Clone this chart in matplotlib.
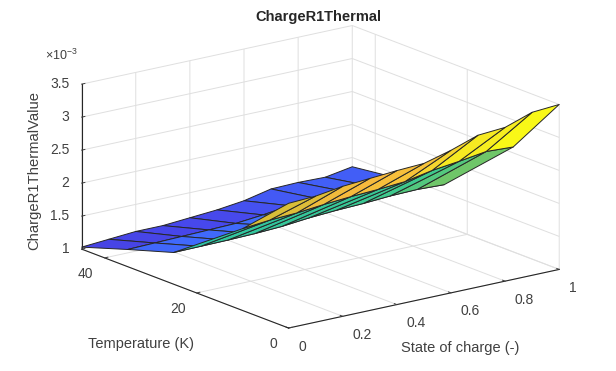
import matplotlib
matplotlib.use('Agg')
import matplotlib.pyplot as plt
from matplotlib.colors import LinearSegmentedColormap, Normalize
import numpy as np

plt.rcParams['font.family'] = ['Liberation Sans', 'DejaVu Sans']
plt.rcParams['mathtext.default'] = 'regular'

soc = [0, 0.1, 0.2, 0.3, 0.4, 0.5, 0.6, 0.7, 0.8, 0.9, 1]
temp = [0, 10, 25, 35, 45]
# values in units of 1e-3
r_t0 = [2.89, 2.91, 2.97, 3.00, 3.03, 3.05, 3.16, 3.30, 3.33, 3.47, 3.50]
r_t10 = [2.24, 2.28, 2.30, 2.34, 2.37, 2.39, 2.42, 2.50, 2.55, 2.61, 2.59]
r_t25 = [1.48, 1.485, 1.49, 1.50, 1.52, 1.56, 1.585, 1.60, 1.626, 1.636, 1.62]
r_t35 = [1.26, 1.27, 1.28, 1.29, 1.30, 1.34, 1.39, 1.41, 1.43, 1.42, 1.45]
r_t45 = [1.03, 1.06, 1.09, 1.09, 1.12, 1.15, 1.20, 1.29, 1.30, 1.29, 1.36]

x_ticks = [0, 0.2, 0.4, 0.6, 0.8, 1]
x_ticklabels = ['0', '0.2', '0.4', '0.6', '0.8', '1']
y_ticks = [0, 20, 40]
z_ticks = [1, 1.5, 2, 2.5, 3, 3.5]
z_ticklabels = ['1', '1.5', '2', '2.5', '3', '3.5']

parula = LinearSegmentedColormap.from_list('parula', [
    (0.2422, 0.1504, 0.6603), (0.2803, 0.2782, 0.9221), (0.2440, 0.4358, 0.9988),
    (0.1540, 0.5902, 0.9218), (0.0297, 0.7082, 0.8163), (0.1938, 0.7758, 0.6251),
    (0.2500, 0.7900, 0.5500), (0.7200, 0.7600, 0.2000), (0.9700, 0.7300, 0.2400),
    (0.9600, 0.9000, 0.1500), (0.9769, 0.9839, 0.0805)])

X, Y = np.meshgrid(soc, temp)
Z = np.array([r_t0, r_t10, r_t25, r_t35, r_t45])
colors = parula(Normalize(Z.min(), Z.max())(Z))

fig = plt.figure(figsize=(6.16, 3.71), dpi=100)
ax = fig.add_axes([4.1 / 616, -0.33 + 0.4 / 371, 1, 1.66], projection='3d')
ax.set_proj_type('ortho')
ax.view_init(elev=16.7, azim=-127)
ax.set_box_aspect((339, 344, 172.3), zoom=0.808)
ax.patch.set_alpha(0)

ax.plot_surface(X, Y, Z, facecolors=colors, rstride=1, cstride=1, shade=False,
                edgecolor='#262626', linewidth=0.7)

ax.set_xlim(0, 1)
ax.set_ylim(0, 45)
ax.set_zlim(1, 3.5)
ax.set_xticks(x_ticks, x_ticklabels)
ax.set_yticks(y_ticks)
ax.set_zticks(z_ticks, z_ticklabels)

for axis in (ax.xaxis, ax.yaxis, ax.zaxis):
    axis.set_pane_color((1, 1, 1, 0))
    axis.pane.set_edgecolor('#d9d9d9')
    axis.line.set_color('#262626')
    axis.line.set_linewidth(0.8)
    axis._axinfo['grid'].update(color='#dfdfdf', linewidth=0.7)
    axis._axinfo['tick'].update(inward_factor=0.0, outward_factor=0.15, linewidth={True: 0.7, False: 0.7})
ax.tick_params(labelsize=10, colors='#404040', pad=0)
ax.tick_params(axis='x', pad=3)
ax.tick_params(axis='y', pad=1.5)
ax.tick_params(axis='z', pad=-2)
plt.setp(ax.get_xticklabels(), ha='left')
plt.setp(ax.get_yticklabels(), ha='right')
plt.setp(ax.get_zticklabels(), ha='right', va='center')

fig.text(318 / 616, 1 - 17 / 371, 'ChargeR1Thermal', ha='center', va='center',
         fontsize=10.5, fontweight='bold', color='#262626')
fig.text(140.5 / 616, 1 - 344 / 371, 'Temperature (K)', ha='center', va='center',
         fontsize=10.5, color='#404040')
fig.text(460 / 616, 1 - 348 / 371, 'State of charge (-)', ha='center', va='center',
         fontsize=10.5, color='#404040')
fig.text(34 / 616, 1 - 170 / 371, 'ChargeR1ThermalValue', ha='center', va='center',
         rotation=90, fontsize=10.6, color='#404040')
fig.text(45 / 616, 1 - 55 / 371, r'$\times 10^{-3}$', ha='left', va='center',
         fontsize=9, color='#404040')

fig.savefig('out.png', dpi=100)
